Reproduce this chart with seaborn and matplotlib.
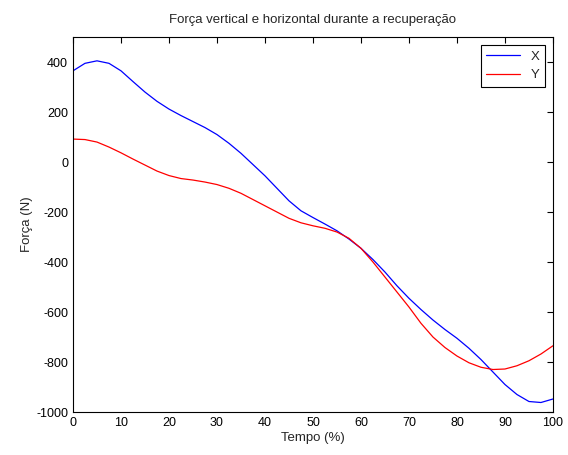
import matplotlib
matplotlib.use('Agg')
import matplotlib.pyplot as plt
import numpy as np
import pandas as pd
import seaborn as sns

# Tempo (%) sampled every 2.5 %
tempo = np.arange(0, 100.1, 2.5)

forca_x = [365, 395, 405, 395, 365, 322, 280, 243, 212, 186, 162, 138, 110,
           75, 35, -10, -55, -105, -155, -195, -222, -248, -275, -308, -345,
           -390, -440, -495, -545, -590, -632, -670, -705, -745, -790, -840,
           -890, -930, -958, -962, -948]

forca_y = [92, 90, 80, 60, 37, 12, -12, -36, -54, -66, -72, -80, -90, -105,
           -125, -150, -175, -200, -225, -243, -255, -265, -280, -305, -345,
           -400, -460, -520, -580, -645, -700, -742, -776, -803, -821, -830,
           -828, -815, -795, -768, -735]

df = pd.DataFrame({
    'Tempo': np.concatenate([tempo, tempo]),
    'Forca': forca_x + forca_y,
    'Serie': ['X'] * len(tempo) + ['Y'] * len(tempo),
})

sns.set_style('white')
plt.rcParams['font.family'] = ['Liberation Sans', 'DejaVu Sans']
plt.rcParams['axes.unicode_minus'] = False
plt.rcParams['xtick.direction'] = 'in'
plt.rcParams['ytick.direction'] = 'in'

fig = plt.figure(figsize=(5.68, 4.55), dpi=100)
ax = fig.add_axes([0.1285, 0.0945, 0.845, 0.824])

sns.lineplot(data=df, x='Tempo', y='Forca', hue='Serie',
             palette={'X': '#0000ff', 'Y': '#ff0000'}, linewidth=0.9, ax=ax)

ax.set_xlim(0, 100)
ax.set_ylim(-1000, 500)
ax.set_xticks(range(0, 101, 10))
ax.set_yticks(range(-1000, 401, 200))
ax.tick_params(axis='both', labelsize=9, length=4, width=0.8,
               top=True, right=True, colors='black')
for s in ax.spines.values():
    s.set_color('black')
    s.set_linewidth(0.8)

ax.set_title('Força vertical e horizontal durante a recuperação', fontsize=9.5, pad=10)
ax.set_xlabel('Tempo (%)', fontsize=9.5, labelpad=2)
ax.set_ylabel('Força (N)', fontsize=9.5, labelpad=2)

leg = ax.legend(title=None, loc='upper right', fontsize=9.5, frameon=True,
                fancybox=False, edgecolor='black', handlelength=2.6,
                borderaxespad=0.6, framealpha=1)
leg.get_frame().set_linewidth(0.8)

plt.savefig('out.png', dpi=100)
